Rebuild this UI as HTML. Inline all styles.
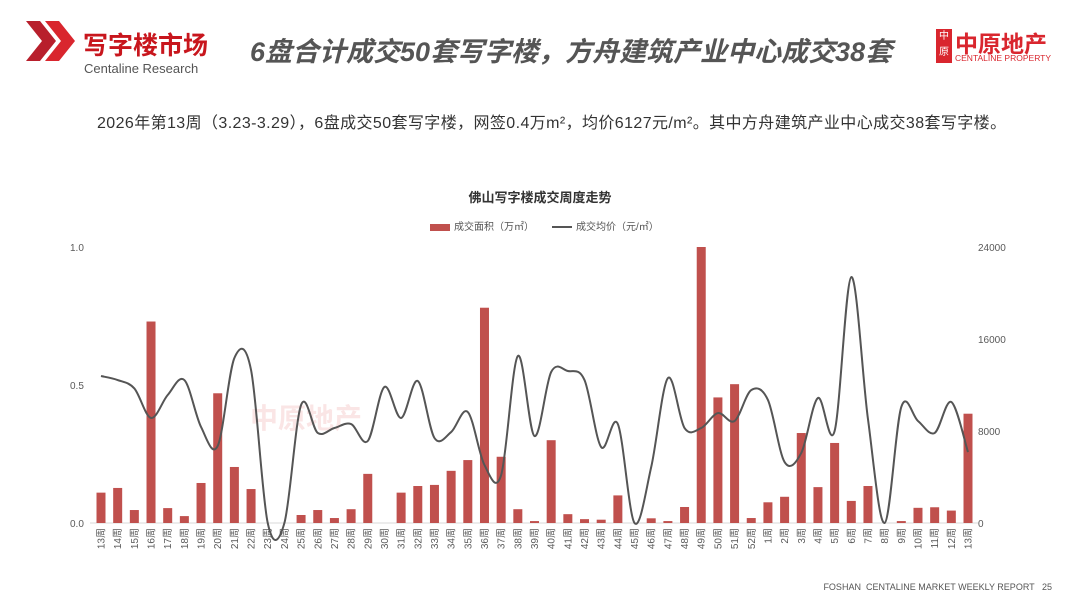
<!DOCTYPE html>
<html><head><meta charset="utf-8">
<style>
body{margin:0;width:1080px;height:608px;background:#fff;position:relative;overflow:hidden;font-family:"Liberation Sans","Noto Sans CJK SC",sans-serif;}
.abs{position:absolute;white-space:nowrap;}
</style></head><body>
<svg class="abs" style="left:0;top:0" width="80" height="80">
<polygon points="26,21 40,21 56,41 40,61 26,61 42,41" fill="#b81f2c"/>
<polygon points="45,21 59,21 75,41 59,61 45,61 61,41" fill="#d9262e"/>
</svg>
<div class="abs" style="left:83px;top:26px;font-size:25px;font-weight:bold;color:#c8161d;">写字楼市场</div>
<div class="abs" style="left:84px;top:61px;font-size:13px;color:#555;">Centaline Research</div>
<div class="abs" style="left:250px;top:30px;font-size:27px;font-weight:bold;font-style:italic;color:#555;">6盘合计成交50套写字楼，方舟建筑产业中心成交38套</div>
<div class="abs" style="left:936px;top:29px;width:16px;height:34px;background:#d9262e;color:#fff;font-size:10px;line-height:16px;text-align:center;">中<br>原</div>
<div class="abs" style="left:955px;top:25px;font-size:23px;font-weight:bold;color:#d9262e;">中原地产</div>
<div class="abs" style="left:955px;top:53px;font-size:8.5px;color:#d9262e;">CENTALINE PROPERTY</div>
<div class="abs" style="left:97px;top:109px;font-size:16px;color:#333;letter-spacing:0.4px;">2026年第13周（3.23-3.29），6盘成交50套写字楼，网签0.4万m²，均价6127元/m²。其中方舟建筑产业中心成交38套写字楼。</div>
<div class="abs" style="left:0;width:1080px;text-align:center;top:187px;font-size:13px;font-weight:bold;color:#333;">佛山写字楼成交周度走势</div>
<div class="abs" style="left:430px;top:218px;font-size:10px;color:#555;"><span style="display:inline-block;width:20px;height:7px;background:#c0504d;margin-right:4px;vertical-align:middle"></span>成交面积（万㎡）</div>
<div class="abs" style="left:552px;top:218px;font-size:10px;color:#555;"><span style="display:inline-block;width:20px;height:2px;background:#555;margin-right:4px;vertical-align:middle"></span>成交均价（元/㎡）</div>
<div class="abs" style="left:250px;top:397px;font-size:28px;font-weight:bold;color:rgba(220,80,80,0.15);">中原地产</div>
<svg id="chart" class="abs" style="left:0;top:0" width="1080" height="608"></svg>
<div class="abs" style="right:28px;top:582px;font-size:9px;color:#555;">FOSHAN&nbsp; CENTALINE MARKET WEEKLY REPORT &nbsp; 25</div>
<script>
const categories=["13周","14周","15周","16周","17周","18周","19周","20周","21周","22周","23周","24周","25周","26周","27周","28周","29周","30周","31周","32周","33周","34周","35周","36周","37周","38周","39周","40周","41周","42周","43周","44周","45周","46周","47周","48周","49周","50周","51周","52周","1周","2周","3周","4周","5周","6周","7周","8周","9周","10周","11周","12周","13周"];
const areaValues=[0.11,0.127,0.047,0.73,0.054,0.025,0.145,0.47,0.203,0.123,0,0,0.029,0.047,0.018,0.05,0.178,0,0.11,0.134,0.138,0.189,0.228,0.78,0.24,0.05,0.007,0.30,0.032,0.014,0.012,0.10,0,0.017,0.007,0.058,1.0,0.455,0.503,0.018,0.075,0.095,0.326,0.13,0.29,0.08,0.134,0,0.007,0.055,0.057,0.045,0.396];
const priceValues=[12780,12430,11700,9130,11130,12430,8350,6700,14350,13300,0,0,10260,7830,8260,8600,7130,11830,9130,12350,7390,7910,9650,5040,4170,14520,7560,13130,13220,12430,6600,8600,0,4870,12600,8260,8260,9560,8870,11560,10700,5300,6090,10870,8000,21390,9040,0,10090,8870,7830,10520,6170];
const leftTicks=["0.0","0.5","1.0"];
const rightTicks=["0","8000","16000","24000"];
const svg=document.getElementById('chart');
const NS="http://www.w3.org/2000/svg";
const x0=101,x1=968,yBase=523,yTop=247;
function xPos(i){return x0+(x1-x0)*i/(categories.length-1);}
function yL(v){return yBase-(yBase-yTop)*v/1.0;}
function yR(v){return yBase-(yBase-yTop)*v/24000;}
function mk(tag,attrs){const e=document.createElementNS(NS,tag);for(const k in attrs)e.setAttribute(k,attrs[k]);svg.appendChild(e);return e;}
const base=mk('line',{x1:90,x2:978,y1:yBase,y2:yBase,stroke:'#d9d9d9'});


leftTicks.forEach(t=>{const e=mk('text',{x:70,y:yL(+t)+4,'font-size':10,fill:'#595959'});e.textContent=t;

});
rightTicks.forEach(t=>{const e=mk('text',{x:978,y:yR(+t)+4,'font-size':10,fill:'#595959'});e.textContent=t;

});
areaValues.forEach((v,i)=>{const y=yL(v);const r=mk('rect',{x:xPos(i)-4.5,y:y,width:9,height:yBase-y,fill:'#c0504d'});

});
categories.forEach((c,i)=>{const x=xPos(i)+3.5,y=528;const t=mk('text',{x:x,y:y,'font-size':10,fill:'#595959','text-anchor':'end',transform:`rotate(-90 ${x} ${y})`});t.textContent=c;

});
const pts=priceValues.map((v,i)=>[xPos(i),yR(v)]);
let d=`M${pts[0][0]},${pts[0][1]}`;
for(let i=0;i<pts.length-1;i++){const p0=pts[Math.max(0,i-1)],p1=pts[i],p2=pts[i+1],p3=pts[Math.min(pts.length-1,i+2)];const k=1/6;
d+=` C${p1[0]+(p2[0]-p0[0])*k},${p1[1]+(p2[1]-p0[1])*k} ${p2[0]-(p3[0]-p1[0])*k},${p2[1]-(p3[1]-p1[1])*k} ${p2[0]},${p2[1]}`;}
const line=mk('path',{d:d,fill:'none',stroke:'#555','stroke-width':2});


</script>
</body></html>
